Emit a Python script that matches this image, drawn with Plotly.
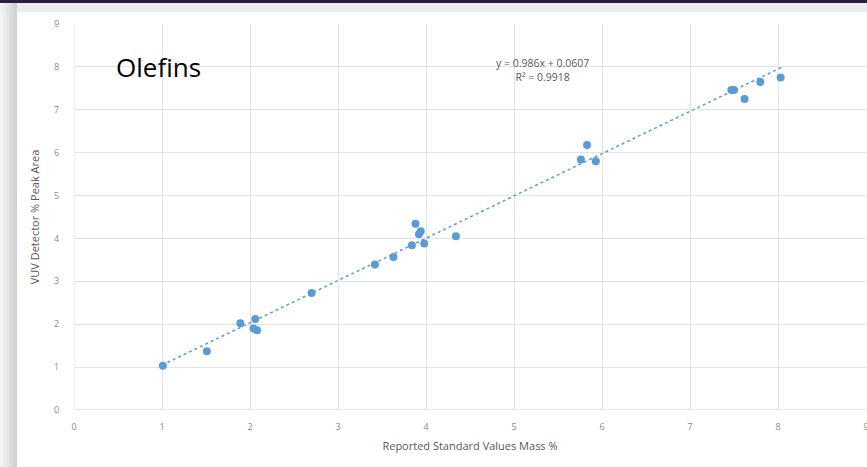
import plotly.graph_objects as go

x_vals = [1.01, 1.51, 1.89, 2.06, 2.04, 2.08, 2.70, 3.42, 3.63, 3.84, 3.88, 3.92, 3.94, 3.98, 4.34,
          5.76, 5.83, 5.93, 7.47, 7.50, 7.62, 7.80, 8.03]
y_vals = [1.03, 1.37, 2.02, 2.12, 1.90, 1.86, 2.73, 3.39, 3.57, 3.84, 4.34, 4.10, 4.17, 3.88, 4.05,
          5.84, 6.18, 5.80, 7.46, 7.46, 7.25, 7.65, 7.75]
slope = 0.986
intercept = 0.0607
trend_x = [1.0, 8.05]
trend_y = [slope * v + intercept for v in trend_x]
ticks = list(range(0, 10))

W, H = 867, 467
L, R, T, B = 74, 1, 24, 57
pw, ph = W - L - R, H - T - B

def px(xp):
    return (xp - L) / pw

def py(yp):
    return (H - B - yp) / ph

fig = go.Figure()
fig.add_trace(go.Scatter(x=trend_x, y=trend_y, mode="lines",
                         line=dict(color="#5B9BD5", width=1.5, dash="dot"), hoverinfo="skip"))
fig.add_trace(go.Scatter(x=x_vals, y=y_vals, mode="markers",
                         marker=dict(color="#5B9BD5", size=8)))

shapes = []
shapes.append(dict(type="rect", xref="paper", yref="paper", x0=px(0), x1=px(W), y0=py(12), y1=py(0),
                   fillcolor="#ececec", line=dict(width=0), layer="below"))
shapes.append(dict(type="rect", xref="paper", yref="paper", x0=px(0), x1=px(W), y0=py(3), y1=py(0),
                   fillcolor="#2e1d40", line=dict(width=0), layer="below"))
grads = ["#f2f2f2", "#ebebeb", "#e4e4e4", "#dddddd", "#d6d6d6", "#d0d0d0"]
n = len(grads)
for i, c in enumerate(grads):
    shapes.append(dict(type="rect", xref="paper", yref="paper", x0=px(17 * i / n), x1=px(17 * (i + 1) / n),
                       y0=py(H), y1=py(3), fillcolor=c, line=dict(width=0), layer="below"))

fig.update_layout(
    width=W, height=H,
    margin=dict(l=L, r=R, t=T, b=B),
    paper_bgcolor="white", plot_bgcolor="white",
    showlegend=False,
    shapes=shapes,
    font=dict(family="Open Sans, sans-serif", color="#7f7f7f"),
    xaxis=dict(range=[0, 9], tickvals=ticks, showgrid=True, gridcolor="#e3e3e3", gridwidth=1,
               zeroline=False, showline=False, ticks="outside", ticklen=8, tickcolor="rgba(0,0,0,0)",
               tickfont=dict(size=9, color="#8a8a8a"), ticklabeloverflow="allow", automargin=False,
               title=dict(text="Reported Standard Values Mass %", font=dict(size=11, color="#595959"), standoff=10)),
    yaxis=dict(range=[0, 9], tickvals=ticks, showgrid=True, gridcolor="#e3e3e3", gridwidth=1,
               zeroline=False, showline=False, ticks="outside", ticklen=12, tickcolor="rgba(0,0,0,0)",
               tickfont=dict(size=9, color="#8a8a8a"), automargin=False,
               title=dict(text="VUV Detector % Peak Area", font=dict(size=11, color="#595959"), standoff=12)),
    annotations=[
        dict(text="Olefins", x=px(114), y=py(67), xref="paper", yref="paper", xanchor="left", yanchor="middle",
             showarrow=False, font=dict(size=26, color="black", family="Open Sans, sans-serif")),
        dict(text="y = 0.986x + 0.0607<br>R² = 0.9918", x=px(542), y=py(70), xref="paper", yref="paper",
             xanchor="center", yanchor="middle", showarrow=False, align="center",
             font=dict(size=10.5, color="#595959")),
    ],
)
fig.add_shape(type="line", x0=0, x1=9, y0=0, y1=0, xref="x", yref="y", line=dict(color="#d0d0d0", width=1))
fig.add_shape(type="line", x0=0, x1=0, y0=0, y1=9, xref="x", yref="y", line=dict(color="#e3e3e3", width=1),
              layer="below")
fig.write_html("out.html")
